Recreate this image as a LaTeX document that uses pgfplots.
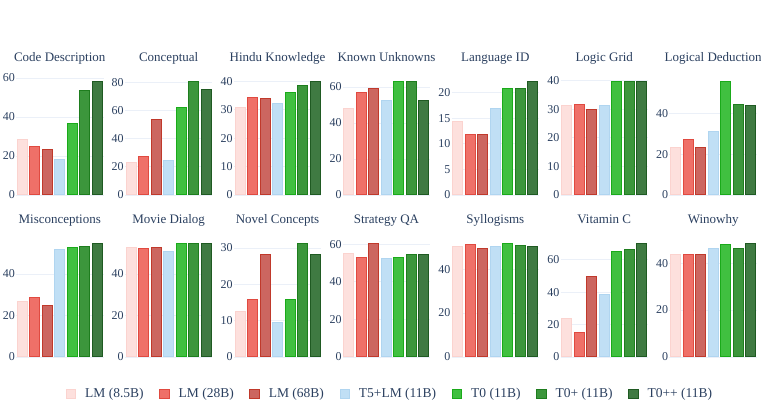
\documentclass[border=0pt]{standalone}
\usepackage{fontspec}
\setmainfont{Liberation Serif}
\usepackage{pgfplots}
\pgfplotsset{compat=1.18}

\definecolor{txt}{HTML}{2A3F5F}
\definecolor{gridc}{HTML}{EBF0F8}
\definecolor{fa}{HTML}{FDE0DD}\definecolor{da}{HTML}{FBD3CF}
\definecolor{fb}{HTML}{EF7068}\definecolor{db}{HTML}{E04A40}
\definecolor{fc}{HTML}{CC6660}\definecolor{dc}{HTML}{C0392B}
\definecolor{fd}{HTML}{C0DFF5}\definecolor{dd}{HTML}{B0D5F0}
\definecolor{fe}{HTML}{40C040}\definecolor{de}{HTML}{1AAA1A}
\definecolor{ff}{HTML}{3C963C}\definecolor{df}{HTML}{1E7D1E}
\definecolor{fg}{HTML}{3F7A42}\definecolor{dg}{HTML}{1F5A22}

\pgfplotsset{
  panel/.style={
    width=87.5pt, height=119.5pt, scale only axis, anchor=south west,
    xmin=-0.5, xmax=6.5, ymin=0, xtick=\empty,
    axis line style={draw=none}, major tick length=0pt,
    ymajorgrids, grid style={draw=gridc, line width=0.9pt},
    every axis plot/.append style={ybar, bar width=0.8, bar shift=0pt, line width=1pt},
    /pgf/number format/assume math mode=true,
    yticklabel style={font=\fontsize{12}{12}\selectfont, text=txt, inner sep=1pt},
    title style={font=\fontsize{13}{13}\selectfont, text=txt, at={(0.5,1)}, anchor=base, yshift=8pt},
  },
}

% seven bars of one panel: LM 8.5B, LM 28B, LM 68B, T5+LM, T0, T0+, T0++
\newcommand\bars[7]{%
  \addplot[fill=fa, draw=da] coordinates {(0,#1)};
  \addplot[fill=fb, draw=db] coordinates {(1,#2)};
  \addplot[fill=fc, draw=dc] coordinates {(2,#3)};
  \addplot[fill=fd, draw=dd] coordinates {(3,#4)};
  \addplot[fill=fe, draw=de] coordinates {(4,#5)};
  \addplot[fill=ff, draw=df] coordinates {(5,#6)};
  \addplot[fill=fg, draw=dg] coordinates {(6,#7)};
}

\begin{document}
\begin{tikzpicture}
\path[use as bounding box] (0,0) rectangle (761pt,419pt);

% row 1
\begin{axis}[panel, at={(16pt,224pt)}, title={Code Description}, ymax=61.3, ytick={0,20,40,60}]
\bars{28.4}{24.9}{23.2}{18.4}{36.6}{53.6}{58.4}
\end{axis}
\begin{axis}[panel, at={(124.9pt,224pt)}, title={Conceptual}, ymax=85.2, ytick={0,20,40,60,80}]
\bars{23.4}{27.2}{53.5}{24.8}{62.3}{81.1}{74.9}
\end{axis}
\begin{axis}[panel, at={(233.8pt,224pt)}, title={Hindu Knowledge}, ymax=42, ytick={0,10,20,30,40}]
\bars{30.9}{34.4}{33.8}{32.1}{36.1}{38.4}{40.0}
\end{axis}
\begin{axis}[panel, at={(342.7pt,224pt)}, title={Known Unknowns}, ymax=66.4, ytick={0,20,40,60}]
\bars{48.0}{56.9}{58.9}{52.4}{63.2}{63.2}{52.4}
\end{axis}
\begin{axis}[panel, at={(451.6pt,224pt)}, title={Language ID}, ymax=23.4, ytick={0,5,10,15,20}]
\bars{14.3}{11.9}{11.9}{16.85}{20.8}{20.9}{22.3}
\end{axis}
\begin{axis}[panel, at={(560.5pt,224pt)}, title={Logic Grid}, ymax=41.8, ytick={0,10,20,30,40}]
\bars{31.2}{31.8}{29.8}{31.2}{39.8}{39.6}{39.6}
\end{axis}
\begin{axis}[panel, at={(669.4pt,224pt)}, title={Logical Deduction}, ymax=58.5, ytick={0,20,40}]
\bars{23.3}{27.4}{23.3}{31.3}{55.7}{44.4}{43.9}
\end{axis}

% row 2
\begin{axis}[panel, at={(16pt,62pt)}, title={Misconceptions}, ymax=57.6, ytick={0,20,40}]
\bars{26.6}{28.9}{24.6}{51.7}{52.6}{53.1}{54.9}
\end{axis}
\begin{axis}[panel, at={(124.9pt,62pt)}, title={Movie Dialog}, ymax=57.6, ytick={0,20,40}]
\bars{52.6}{52.2}{52.6}{51.0}{54.7}{54.9}{54.9}
\end{axis}
\begin{axis}[panel, at={(233.8pt,62pt)}, title={Novel Concepts}, ymax=32.9, ytick={0,10,20,30}]
\bars{12.6}{15.7}{28.2}{9.4}{15.7}{31.3}{28.2}
\end{axis}
\begin{axis}[panel, at={(342.7pt,62pt)}, title={Strategy QA}, ymax=63.5, ytick={0,20,40,60}]
\bars{54.9}{52.9}{60.5}{52.4}{52.7}{54.2}{54.5}
\end{axis}
\begin{axis}[panel, at={(451.6pt,62pt)}, title={Syllogisms}, ymax=54.4, ytick={0,20,40}]
\bars{50.5}{51.1}{49.2}{50.2}{51.8}{50.6}{50.3}
\end{axis}
\begin{axis}[panel, at={(560.5pt,62pt)}, title={Vitamin C}, ymax=73.7, ytick={0,20,40,60}]
\bars{24.0}{14.8}{49.7}{38.4}{64.9}{66.3}{70.2}
\end{axis}
\begin{axis}[panel, at={(669.4pt,62pt)}, title={Winowhy}, ymax=50.9, ytick={0,20,40}]
\bars{43.8}{43.5}{43.7}{46.1}{47.8}{46.2}{48.5}
\end{axis}

% legend
\begin{axis}[at={(0pt,0pt)}, anchor=south west, width=761pt, height=419pt, scale only axis,
  hide axis, xmin=0, xmax=1, ymin=0, ymax=1,
  legend columns=7,
  legend image code/.code={\draw[#1, line width=1pt] (0pt,-4.6pt) rectangle (9.4pt,4.6pt);},
  legend style={at={(65.6/761,25/419)}, anchor=west, draw=none, fill=none,
    font=\fontsize{13.5}{13.5}\selectfont, text=txt, inner sep=0pt,
    /tikz/every odd column/.append style={column sep=7pt},
    /tikz/every even column/.append style={column sep=13.6pt}}]
\addlegendimage{fill=fa, draw=da}\addlegendentry{LM (8.5B)}
\addlegendimage{fill=fb, draw=db}\addlegendentry{LM (28B)}
\addlegendimage{fill=fc, draw=dc}\addlegendentry{LM (68B)}
\addlegendimage{fill=fd, draw=dd}\addlegendentry{T5+LM (11B)}
\addlegendimage{fill=fe, draw=de}\addlegendentry{T0 (11B)}
\addlegendimage{fill=ff, draw=df}\addlegendentry{T0+ (11B)}
\addlegendimage{fill=fg, draw=dg}\addlegendentry{T0++ (11B)}
\end{axis}
\end{tikzpicture}
\end{document}
